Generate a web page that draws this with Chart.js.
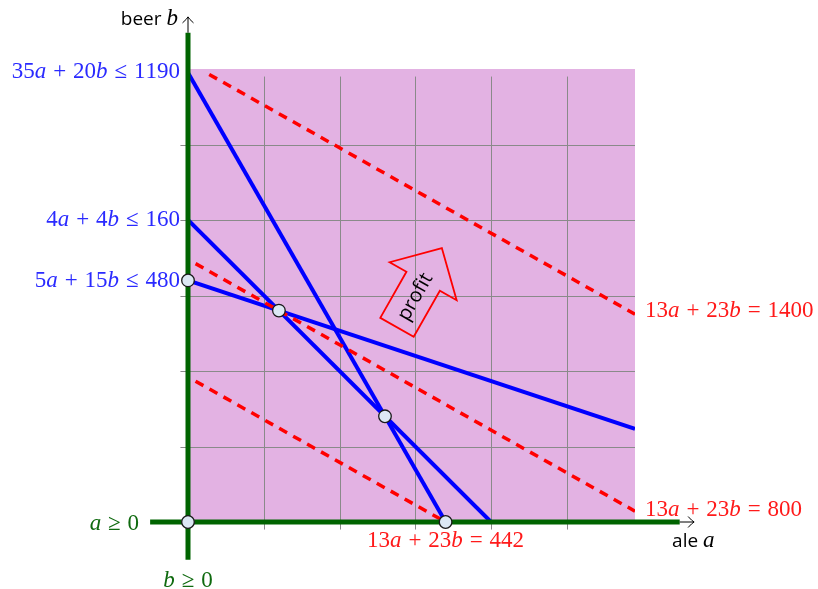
<!DOCTYPE html>
<html><head><meta charset="utf-8">
<script src="https://cdn.jsdelivr.net/npm/chart.js@4.4.1/dist/chart.umd.min.js"></script>
<style>html,body{margin:0;padding:0;background:#fff;}canvas{display:block;}</style>
</head><body>
<canvas id="c" width="818" height="589"></canvas>
<script>
// ---------- data ----------
const aRange = [0, 59];
const bRange = [0, 60];
const gridTicksA = [10, 20, 30, 40, 50];
const gridTicksB = [10, 20, 30, 40, 50];
const gridExtent = [-1, 59];

// constraint boundary lines (a, b) endpoints
const line1190A = [0, 34];     const line1190B = [59.5, 0];
const line160A  = [0, 40];     const line160B  = [40, 0];
const line480A  = [0, 59];     const line480B  = [32, 12.33];

// iso-profit lines 13a + 23b = const
const iso442A  = [1, 34];      const iso442B  = [18.65, 0];
const iso800A  = [1, 59];      const iso800B  = [34.22, 1.43];
const iso1400A = [2.8, 59];    const iso1400B = [59.28, 27.52];

// feasible-region vertices
const vertexA = [0, 0, 12, 26, 34];
const vertexB = [0, 32, 28, 14, 0];

// axes extents
const axisA = [-5, 64.9];
const axisB = [-5, 64.8];
const arrowTipA = 66.8;
const arrowTipB = 66.9;

// profit gradient
const profitDir = [13, 23];
const profitCenter = [29.8, 29.7];

// label texts
const constraintLabels = ['35a + 20b ≤ 1190', '4a + 4b ≤ 160', '5a + 15b ≤ 480'];
const isoLabels = ['13a + 23b = 1400', '13a + 23b = 800', '13a + 23b = 442'];
const signLabels = ['a ≥ 0', 'b ≥ 0'];
const axisTitleY = ['beer', 'b'];
const axisTitleX = ['ale', 'a'];
const profitText = 'profit';

// ---------- helpers ----------
const zip = (xs, ys) => xs.map((x, i) => ({x, y: ys[i]}));
const BLUE = '#0000ff', RED = '#ff0000', GREEN = '#006400';
const TBLUE = '#2a2aff', TRED = '#ff1a1a', TGREEN = '#0f6a0f';
const MATH = '"Liberation Serif", serif';
const SANS = '"Open Sans", "DejaVu Sans", sans-serif';

function lineDs(pts, color, width, dash, order, clip) {
  return {data: pts, showLine: true, borderColor: color, borderWidth: width,
    borderDash: dash || [], pointRadius: 0, pointHoverRadius: 0, fill: false,
    order: order, clip: clip ? false : undefined, borderCapStyle: 'butt'};
}

function drawMath(ctx, str, x, y, align, color, size) {
  const reg = size + 'px ' + MATH;
  const ita = 'italic ' + size + 'px ' + MATH;
  const gap = size * 0.3;
  const parts = [];
  for (const ch of str) {
    if (ch === ' ') parts.push({w: gap});
    else parts.push({t: ch, f: /[ab]/.test(ch) ? ita : reg});
  }
  let w = 0;
  parts.forEach(p => { if (p.t) { ctx.font = p.f; p.w = ctx.measureText(p.t).width; } w += p.w; });
  let sx = align === 'right' ? x - w : align === 'center' ? x - w / 2 : x;
  ctx.fillStyle = color; ctx.textBaseline = 'alphabetic'; ctx.textAlign = 'left';
  parts.forEach(p => { if (p.t) { ctx.font = p.f; ctx.fillText(p.t, sx, y); } sx += p.w; });
}

function arrowHead(ctx, tx, ty, dx, dy) {
  const nx = -dy, ny = dx, back = 6, spread = 5.5;
  ctx.beginPath();
  ctx.moveTo(tx - dx * back + nx * spread, ty - dy * back + ny * spread);
  ctx.quadraticCurveTo(tx - dx * 2 + nx * 1, ty - dy * 2 + ny * 1, tx, ty);
  ctx.quadraticCurveTo(tx - dx * 2 - nx * 1, ty - dy * 2 - ny * 1, tx - dx * back - nx * spread, ty - dy * back - ny * spread);
  ctx.stroke();
}

const backgroundPlugin = {
  id: 'bg',
  beforeDatasetsDraw(chart) {
    const {ctx, chartArea: ca, scales: {x, y}} = chart;
    ctx.save();
    ctx.fillStyle = '#e3b2e3';
    ctx.fillRect(ca.left, ca.top, ca.right - ca.left, ca.bottom - ca.top);
    ctx.strokeStyle = '#8a8a8a';
    ctx.lineWidth = 1;
    const y0 = y.getPixelForValue(gridExtent[0]), y1 = y.getPixelForValue(gridExtent[1]);
    const x0 = x.getPixelForValue(gridExtent[0]), x1 = x.getPixelForValue(gridExtent[1]);
    gridTicksA.forEach(v => {
      const px = Math.round(x.getPixelForValue(v)) + 0.5;
      ctx.beginPath(); ctx.moveTo(px, y0); ctx.lineTo(px, y1); ctx.stroke();
    });
    gridTicksB.forEach(v => {
      const py = Math.round(y.getPixelForValue(v)) + 0.5;
      ctx.beginPath(); ctx.moveTo(x0, py); ctx.lineTo(x1, py); ctx.stroke();
    });
    ctx.restore();
  }
};

const annotationPlugin = {
  id: 'ann',
  afterDatasetsDraw(chart) {
    const {ctx, scales: {x, y}} = chart;
    const X = v => x.getPixelForValue(v), Y = v => y.getPixelForValue(v);
    ctx.save();
    ctx.strokeStyle = '#000'; ctx.lineWidth = 1;
    ctx.beginPath(); ctx.moveTo(X(0), Y(axisB[1])); ctx.lineTo(X(0), Y(arrowTipB)); ctx.stroke();
    arrowHead(ctx, X(0), Y(arrowTipB), 0, -1);
    ctx.beginPath(); ctx.moveTo(X(axisA[1]), Y(0)); ctx.lineTo(X(arrowTipA), Y(0)); ctx.stroke();
    arrowHead(ctx, X(arrowTipA), Y(0), 1, 0);

    // profit arrow
    const sx = x.getPixelForValue(profitDir[0]) - x.getPixelForValue(0);
    const sy = y.getPixelForValue(profitDir[1]) - y.getPixelForValue(0);
    const L = Math.hypot(sx, sy);
    const dx = sx / L, dy = sy / L;
    const nx = -dy, ny = dx;
    const cx = X(profitCenter[0]), cy = Y(profitCenter[1]);
    const shape = [[57, 0], [19, 38.5], [19, 19.2], [-34, 19.2], [-34, -19.2], [19, -19.2], [19, -38.5]];
    ctx.beginPath();
    shape.forEach(([u, v], i) => {
      const px = cx + dx * u + nx * v, py = cy + dy * u + ny * v;
      if (i) ctx.lineTo(px, py); else ctx.moveTo(px, py);
    });
    ctx.closePath();
    ctx.strokeStyle = RED; ctx.lineWidth = 1.8; ctx.lineJoin = 'miter';
    ctx.stroke();
    ctx.save();
    ctx.translate(cx + dx * 1.5, cy + dy * 1.5);
    ctx.rotate(Math.atan2(dy, dx));
    ctx.fillStyle = '#000'; ctx.font = '20px ' + SANS;
    ctx.textAlign = 'center'; ctx.textBaseline = 'middle';
    ctx.fillText(profitText, 0, 1);
    ctx.restore();

    const S = 23;
    drawMath(ctx, constraintLabels[0], X(0) - 8, Y(line1190B[0]) + 5.5, 'right', TBLUE, S);
    drawMath(ctx, constraintLabels[1], X(0) - 8, Y(line160B[0]) + 6, 'right', TBLUE, S);
    drawMath(ctx, constraintLabels[2], X(0) - 8, Y(line480B[0]) + 6.5, 'right', TBLUE, S);
    drawMath(ctx, isoLabels[0], X(iso1400A[1]) + 10, Y(iso1400B[1]) + 3, 'left', TRED, S);
    drawMath(ctx, isoLabels[1], X(iso800A[1]) + 10, Y(iso800B[1]) + 5, 'left', TRED, S);
    drawMath(ctx, isoLabels[2], X(iso442A[1]), Y(0) + 25, 'center', TRED, S);
    drawMath(ctx, signLabels[0], X(axisA[0]) - 11, Y(0) + 8, 'right', TGREEN, S);
    drawMath(ctx, signLabels[1], X(0), Y(axisB[0]) + 27, 'center', TGREEN, S);

    ctx.textBaseline = 'alphabetic';
    ctx.font = 'italic ' + S + 'px ' + MATH;
    const wb = ctx.measureText(axisTitleY[1]).width;
    ctx.fillStyle = '#000';
    const rightY = X(0) - 10;
    ctx.textAlign = 'left';
    ctx.fillText(axisTitleY[1], rightY - wb, 25);
    ctx.font = '19px ' + SANS;
    ctx.textAlign = 'right';
    ctx.fillText(axisTitleY[0], rightY - wb - 5, 25);

    ctx.font = '19px ' + SANS;
    ctx.textAlign = 'left';
    const wa = ctx.measureText(axisTitleX[0]).width;
    const lx = X(arrowTipA) - 22;
    ctx.fillText(axisTitleX[0], lx, Y(0) + 25);
    ctx.font = 'italic ' + S + 'px ' + MATH;
    ctx.fillText(axisTitleX[1], lx + wa + 5, Y(0) + 25);
    ctx.restore();
  }
};

const datasets = [
  {data: zip(vertexA, vertexB), showLine: false, pointRadius: 6.3, pointHoverRadius: 6.3,
   pointBackgroundColor: '#dce8f4', pointBorderColor: '#1a1a1a', pointBorderWidth: 1.3,
   order: 0, clip: false},
  lineDs(zip(axisA, [0, 0]), GREEN, 5, null, 1, true),
  lineDs(zip([0, 0], axisB), GREEN, 5, null, 1, true),
  lineDs(zip(iso442A, iso442B), RED, 3.5, [9, 7], 2),
  lineDs(zip(iso800A, iso800B), RED, 3.5, [9, 7], 2),
  lineDs(zip(iso1400A, iso1400B), RED, 3.5, [9, 7], 2),
  lineDs(zip(line1190A, line1190B), BLUE, 4, null, 3),
  lineDs(zip(line160A, line160B), BLUE, 4, null, 3),
  lineDs(zip(line480A, line480B), BLUE, 4, null, 3)
];

new Chart(document.getElementById('c'), {
  type: 'scatter',
  data: {datasets},
  options: {
    responsive: false, animation: false, devicePixelRatio: 1, events: [],
    layout: {padding: {left: 188, right: 183, top: 69, bottom: 67}},
    scales: {
      x: {type: 'linear', min: aRange[0], max: aRange[1], display: false},
      y: {type: 'linear', min: bRange[0], max: bRange[1], display: false}
    },
    plugins: {legend: {display: false}, tooltip: {enabled: false}}
  },
  plugins: [backgroundPlugin, annotationPlugin]
});
</script>
</body></html>
